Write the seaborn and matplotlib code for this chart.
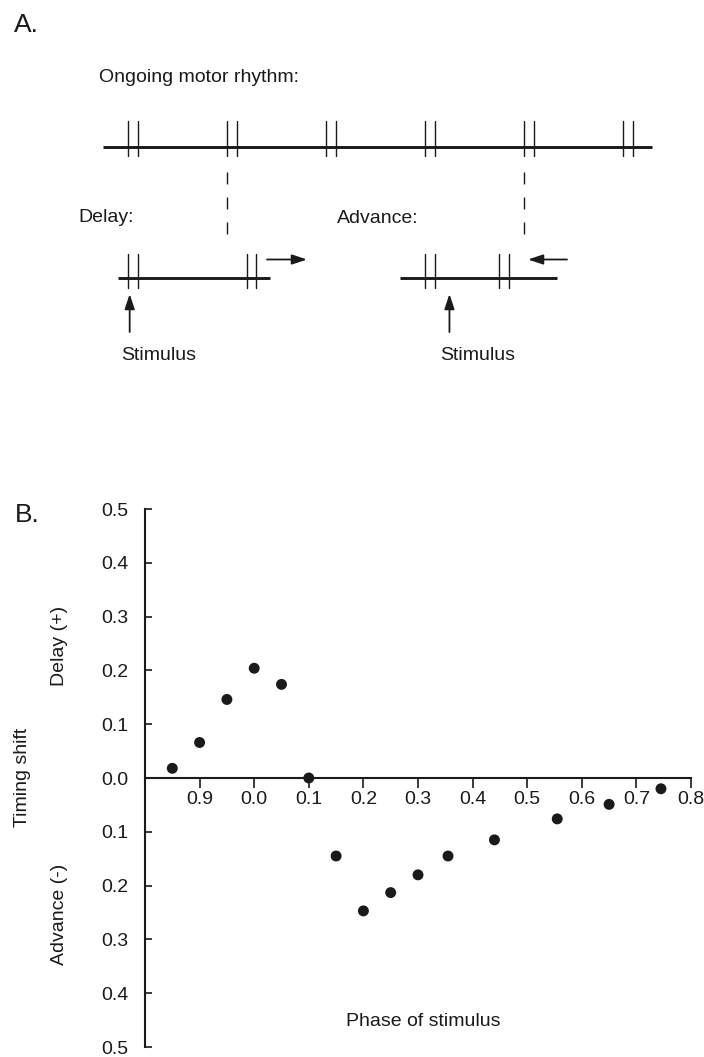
import numpy as np
import pandas as pd
import matplotlib
matplotlib.use("Agg")
import matplotlib.pyplot as plt
import seaborn as sns

# ---------------- data ----------------
# Panel A: schematic burst times, in cycles of the ongoing motor rhythm
main_bursts = [0, 1, 2, 3, 4, 5]
delay_bursts = [0.0, 1.2]
advance_bursts = [3.0, 3.75]
stimulus_times = [0.02, 3.25]
reference_cycles = [1.0, 4.0]
spike_gap = 0.1

# Panel B: phase response
stim_phase = [0.85, 0.90, 0.95, 0.00, 0.05, 0.10, 0.15, 0.20, 0.25, 0.30,
              0.355, 0.44, 0.555, 0.65, 0.745]
timing_shift = [0.018, 0.066, 0.146, 0.204, 0.174, 0.0, -0.145, -0.247,
                -0.213, -0.180, -0.145, -0.115, -0.076, -0.049, -0.020]
phase_ticks = [0.9, 0.0, 0.1, 0.2, 0.3, 0.4, 0.5, 0.6, 0.7, 0.8]
shift_ticks = [0.5, 0.4, 0.3, 0.2, 0.1, 0.0, -0.1, -0.2, -0.3, -0.4, -0.5]

# ---------------- style ----------------
sns.set_theme(style="white")
plt.rcParams["font.family"] = ["Liberation Sans", "DejaVu Sans"]

W, H = 704, 1057
fig = plt.figure(figsize=(W / 100, H / 100), dpi=100)
FS = 14


def ftext(x, y, s, **kw):
    fig.text(x / W, 1 - y / H, s, fontsize=kw.pop("fontsize", FS), color="k", **kw)


def wrap(p):
    return p - 1.0 if p > 0.8 else p


# ---------------- panel A ----------------
PX0, PXC = 127.7, 99.0          # pixel of cycle 0, pixels per cycle
cyc = lambda px: (px - PX0) / PXC
axA = fig.add_axes([0, 1 - 400 / H, 1, 400 / H])
axA.set_xlim(cyc(0), cyc(W))
axA.set_ylim(400, 0)
axA.axis("off")


def burst_row(bursts, y, x0, x1, up, down):
    axA.plot([x0, x1], [y, y], color="k", lw=2.1, solid_capstyle="butt")
    for b in bursts:
        for s in (b, b + spike_gap):
            axA.plot([s, s], [y - up, y + down], color="k", lw=1.0)


burst_row(main_bursts, 147, cyc(103), cyc(652), 26, 9)
burst_row(delay_bursts, 278, cyc(117.5), cyc(269.5), 24, 10)
burst_row(advance_bursts, 278, cyc(400), cyc(557), 24, 10)

for rc, yend in zip(reference_cycles, [237, 234]):
    axA.plot([rc, rc], [172, yend], color="k", lw=1.0, dashes=(8.6, 9.4))

arrow_kw = dict(arrowstyle="-|>,head_length=0.6,head_width=0.2", color="k",
                lw=1.3, mutation_scale=15, shrinkA=0, shrinkB=0)
# shift arrows
axA.annotate("", xy=(cyc(307), 259.5), xytext=(cyc(267), 259.5), arrowprops=arrow_kw)
axA.annotate("", xy=(cyc(528), 259.5), xytext=(cyc(567), 259.5), arrowprops=arrow_kw)
# stimulus arrows
for st in stimulus_times:
    axA.annotate("", xy=(st, 294), xytext=(st, 332), arrowprops=arrow_kw)

ftext(14, 32, "A.", fontsize=19, va="baseline")
ftext(99, 82, "Ongoing motor rhythm:", va="baseline")
ftext(78, 222, "Delay:", va="baseline")
ftext(337, 223, "Advance:", va="baseline")
ftext(121, 360, "Stimulus", va="baseline")
ftext(440, 360, "Stimulus", va="baseline")

# ---------------- panel B ----------------
axB = fig.add_axes([145 / W, 1 - 1047 / H, (691 - 145) / W, (1047 - 509) / H])
df = pd.DataFrame({"x": [wrap(p) for p in stim_phase], "y": timing_shift})
sns.scatterplot(data=df, x="x", y="y", ax=axB, color="k", s=62,
                edgecolor="none", linewidth=0, zorder=3, clip_on=False)
axB.set_xlim(-0.2, 0.8)
axB.set_ylim(-0.5, 0.5)
axB.set_xlabel("")
axB.set_ylabel("")
for side in ("top", "right"):
    axB.spines[side].set_visible(False)
axB.spines["bottom"].set_position(("data", 0))
for side in ("left", "bottom"):
    axB.spines[side].set_linewidth(1.5)
    axB.spines[side].set_color("k")

axB.set_xticks([wrap(p) for p in phase_ticks])
axB.set_xticklabels([f"{p:.1f}" for p in phase_ticks])
axB.set_yticks(shift_ticks)
axB.set_yticklabels([f"{abs(v):.1f}" for v in shift_ticks])
axB.tick_params(axis="y", direction="in", length=5, width=1.2, pad=12,
                labelsize=FS, colors="k", left=True)
axB.tick_params(axis="x", direction="out", length=7, width=1.2, pad=2,
                labelsize=FS, colors="k", bottom=True)

ftext(15, 522, "B.", fontsize=19, va="baseline")
ftext(23, 777, "Timing shift", rotation=90, ha="center", va="center")
ftext(60, 646, "Delay (+)", rotation=90, ha="center", va="center")
ftext(59, 914, "Advance (-)", rotation=90, ha="center", va="center")
ftext(423, 1022, "Phase of stimulus", ha="center", va="center")

fig.savefig("out.png", dpi=100)
